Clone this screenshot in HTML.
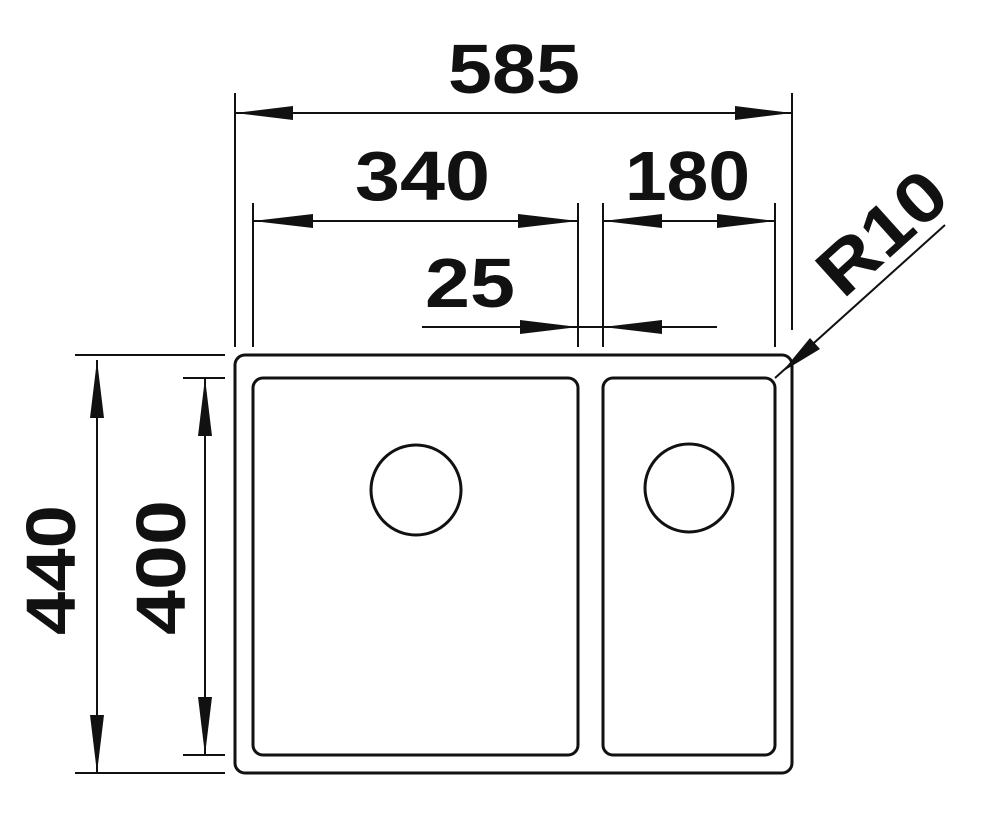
<!DOCTYPE html>
<html><head><style>
html,body{margin:0;padding:0;background:#fff;}
svg{display:block;}
text{font-family:"Liberation Sans",Arial,sans-serif;font-weight:bold;font-size:70px;fill:#111;}
</style></head><body>
<svg width="992" height="820" viewBox="0 0 992 820" xmlns="http://www.w3.org/2000/svg">
<g stroke="#111" stroke-width="2" fill="none">
<line x1="235" y1="93" x2="235" y2="347"/>
<line x1="792" y1="93" x2="792" y2="330"/>
<line x1="253" y1="203" x2="253" y2="347"/>
<line x1="578" y1="203" x2="578" y2="347"/>
<line x1="603" y1="203" x2="603" y2="347"/>
<line x1="775" y1="203" x2="775" y2="347"/>
<line x1="235" y1="113" x2="792" y2="113"/>
<line x1="253" y1="221" x2="578" y2="221"/>
<line x1="603" y1="221" x2="775" y2="221"/>
<line x1="422" y1="327" x2="717" y2="327"/>
<line x1="97" y1="360" x2="97" y2="773"/>
<line x1="205" y1="378" x2="205" y2="755"/>
<line x1="75" y1="355" x2="225" y2="355"/>
<line x1="75" y1="773" x2="225" y2="773"/>
<line x1="183" y1="378" x2="225" y2="378"/>
<line x1="183" y1="755" x2="225" y2="755"/>
<line x1="945" y1="225" x2="775" y2="378"/>
<rect x="235" y="355" width="557" height="418" rx="10" stroke-width="3"/>
<rect x="253" y="378" width="325" height="377" rx="10" stroke-width="3"/>
<rect x="603" y="378" width="172" height="377" rx="10" stroke-width="3"/>
<circle cx="416" cy="490" r="45" stroke-width="3"/>
<circle cx="689" cy="488" r="44" stroke-width="3"/>
</g>
<g fill="#111">
<polygon points="235,113 293,106 293,120"/>
<polygon points="792,113 735,106 735,120"/>
<polygon points="253,221 313,214 313,228"/>
<polygon points="578,221 518,214 518,228"/>
<polygon points="603,221 662,214 662,228"/>
<polygon points="775,221 717,214 717,228"/>
<polygon points="578,327 520,320 520,334"/>
<polygon points="603,327 662,320 662,334"/>
<polygon points="97,360 90,418 104,418"/>
<polygon points="97,773 90,715 104,715"/>
<polygon points="205,378 198,436 212,436"/>
<polygon points="205,755 198,697 212,697"/>
<polygon points="782,372 810,338 820,349"/>
</g>
<text x="448" y="93" textLength="132" lengthAdjust="spacingAndGlyphs">585</text>
<text x="355" y="200" textLength="135" lengthAdjust="spacingAndGlyphs">340</text>
<text x="625" y="200" textLength="125" lengthAdjust="spacingAndGlyphs">180</text>
<text x="425" y="307" textLength="90" lengthAdjust="spacingAndGlyphs">25</text>
<text transform="translate(75,635) rotate(-90)" textLength="130" lengthAdjust="spacingAndGlyphs">440</text>
<text transform="translate(185,635) rotate(-90)" textLength="135" lengthAdjust="spacingAndGlyphs">400</text>
<text transform="translate(843,300) rotate(-42)" textLength="148" lengthAdjust="spacingAndGlyphs">R10</text>
</svg>
</body></html>
